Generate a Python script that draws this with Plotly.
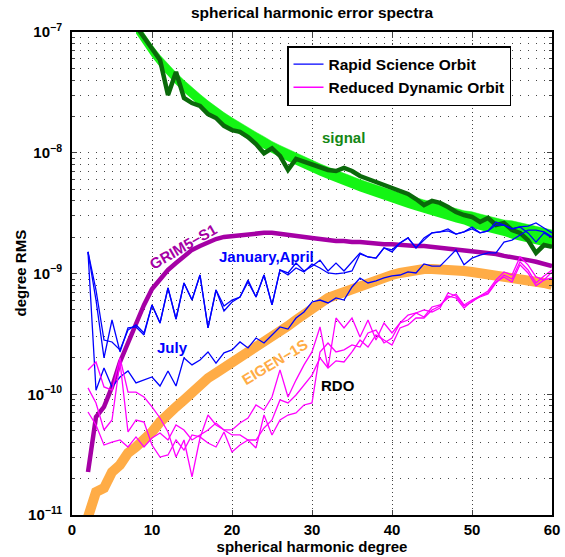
import numpy as np
import plotly.graph_objects as go

# ---------------- data ----------------
degrees = list(range(2, 61))          # error spectra, degree 2..60
signal_degrees = list(range(8, 61))   # signal curves, degree 8..60

y_tick_values = [1e-11, 1e-10, 1e-9, 1e-8, 1e-7]
y_tick_labels = ["10<sup>\u221211</sup>", "10<sup>\u221210</sup>", "10<sup>\u22129</sup>",
                 "10<sup>\u22128</sup>", "10<sup>\u22127</sup>"]

rso_january = [1.51e-9, 6.03e-10, 2.0e-10, 4.12e-10, 2.24e-10, 3.54e-10, 3.61e-10, 3.10e-10, 5.49e-10, 3.89e-10,
               7.59e-10, 4.20e-10, 8.35e-10, 6.03e-10, 9.72e-10, 3.54e-10, 7.30e-10, 4.89e-10, 5.81e-10, 6.39e-10,
               8.84e-10, 6.39e-10, 9.72e-10, 5.49e-10, 1.07e-9, 1.01e-9, 1.22e-9, 1.05e-9, 1.15e-9, 1.29e-9,
               1.05e-9, 1.22e-9, 1.05e-9, 1.25e-9, 1.48e-9, 1.37e-9, 1.34e-9, 1.63e-9, 1.51e-9, 1.79e-9,
               1.97e-9, 1.63e-9, 1.97e-9, 2.17e-9, 2.21e-9, 2.34e-9, 2.12e-9, 2.21e-9, 2.43e-9, 2.17e-9,
               2.25e-9, 2.67e-9, 2.52e-9, 2.34e-9, 2.43e-9, 2.47e-9, 2.62e-9, 2.38e-9, 2.17e-9]
rso_april = [1.51e-9, 7.30e-10, 2.81e-10, 2.71e-10, 2.33e-10, 3.40e-10, 3.75e-10, 3.22e-10, 5.49e-10, 3.89e-10,
             7.59e-10, 4.20e-10, 8.35e-10, 6.03e-10, 9.72e-10, 3.54e-10, 7.30e-10, 5.38e-10, 6.03e-10, 6.39e-10,
             8.51e-10, 6.39e-10, 9.72e-10, 5.49e-10, 1.07e-9, 9.72e-10, 1.11e-9, 1.03e-9, 1.20e-9, 1.11e-9,
             1.01e-9, 9.91e-10, 1.01e-9, 1.05e-9, 1.45e-9, 1.37e-9, 1.34e-9, 1.63e-9, 1.57e-9, 1.79e-9,
             1.97e-9, 1.63e-9, 1.89e-9, 2.17e-9, 2.21e-9, 2.25e-9, 2.12e-9, 2.21e-9, 2.34e-9, 2.17e-9,
             2.25e-9, 2.52e-9, 2.52e-9, 2.34e-9, 2.43e-9, 2.17e-9, 1.82e-9, 2.17e-9, 1.97e-9]
rso_july = [1.51e-9, 1.08e-10, 1.65e-10, 1.15e-10, 1.39e-10, 1.56e-10, 1.24e-10, 1.31e-10, 1.39e-10, 1.17e-10,
            1.56e-10, 1.17e-10, 2.0e-10, 1.75e-10, 1.92e-10, 2.24e-10, 1.81e-10, 2.20e-10, 2.33e-10, 2.71e-10,
            2.42e-10, 2.92e-10, 2.66e-10, 3.10e-10, 3.61e-10, 3.47e-10, 4.28e-10, 4.80e-10, 5.81e-10, 6.03e-10,
            5.70e-10, 6.27e-10, 6.03e-10, 7.73e-10, 9.18e-10, 8.35e-10, 8.67e-10, 9.18e-10, 9.54e-10, 9.72e-10,
            1.03e-9, 1.01e-9, 1.20e-9, 1.15e-9, 1.15e-9, 1.34e-9, 1.57e-9, 1.18e-9, 1.34e-9, 1.42e-9,
            1.48e-9, 1.48e-9, 1.82e-9, 1.89e-9, 2.08e-9, 2.29e-9, 2.29e-9, 2.21e-9, 2.01e-9]

rdo_a = [1.59e-10, 1.85e-10, 1.15e-10, 1.08e-10, 2.0e-10, 1.04e-10, 1.04e-10, 9.49e-11, 7.85e-11, 6.36e-11,
         4.87e-11, 3.02e-11, 4.18e-11, 2.07e-11, 4.34e-11, 6.73e-11, 5.57e-11, 5.06e-11, 5.06e-11, 5.78e-11,
         6.36e-11, 8.15e-11, 7.41e-11, 9.49e-11, 1.59e-10, 9.49e-11, 1.31e-10, 1.75e-10, 2.24e-10, 3.61e-10,
         1.65e-10, 4.28e-10, 3.54e-10, 4.28e-10, 2.98e-10, 4.12e-10, 2.81e-10, 3.89e-10, 3.22e-10, 3.89e-10,
         4.53e-10, 4.71e-10, 4.36e-10, 5.28e-10, 5.49e-10, 6.27e-10, 6.77e-10, 5.49e-10, 6.03e-10, 6.51e-10,
         7.17e-10, 8.84e-10, 1.03e-9, 9.72e-10, 1.37e-9, 1.18e-9, 9.36e-10, 8.84e-10, 1.03e-9]
rdo_b = [1.13e-10, 8.47e-11, 5.06e-11, 6.12e-11, 1.85e-10, 4.87e-11, 6.12e-11, 5.89e-11, 3.80e-11, 3.02e-11,
         3.14e-11, 4.18e-11, 3.45e-11, 4.60e-11, 4.43e-11, 3.95e-11, 3.66e-11, 4.87e-11, 3.33e-11, 3.80e-11,
         4.18e-11, 3.59e-11, 6.73e-11, 4.60e-11, 6.12e-11, 6.73e-11, 7.00e-11, 8.15e-11, 8.47e-11, 2.24e-10,
         2.66e-10, 2.24e-10, 2.33e-10, 2.56e-10, 2.46e-10, 3.22e-10, 3.40e-10, 2.66e-10, 2.92e-10, 3.89e-10,
         4.12e-10, 4.71e-10, 4.99e-10, 4.80e-10, 5.18e-10, 6.90e-10, 6.51e-10, 5.38e-10, 5.81e-10, 6.51e-10,
         6.90e-10, 8.51e-10, 9.36e-10, 8.51e-10, 1.18e-9, 1.01e-9, 7.92e-10, 8.84e-10, 9.18e-10]
rdo_c = [7.13e-11, 5.57e-11, 3.80e-11, 4.02e-11, 4.18e-11, 3.66e-11, 4.43e-11, 3.66e-11, 4.34e-11, 4.78e-11,
         4.18e-11, 5.57e-11, 5.06e-11, 4.18e-11, 4.60e-11, 5.06e-11, 5.78e-11, 5.06e-11, 4.60e-11, 4.60e-11,
         4.18e-11, 4.18e-11, 5.26e-11, 6.12e-11, 8.97e-11, 8.47e-11, 9.86e-11, 1.19e-10, 1.44e-10, 2.0e-10,
         1.65e-10, 1.89e-10, 1.85e-10, 2.24e-10, 2.81e-10, 2.46e-10, 3.10e-10, 2.81e-10, 2.56e-10, 3.54e-10,
         3.75e-10, 4.28e-10, 4.28e-10, 4.99e-10, 5.38e-10, 6.51e-10, 6.27e-10, 5.18e-10, 5.92e-10, 6.39e-10,
         6.77e-10, 8.35e-10, 9.72e-10, 9.01e-10, 1.25e-9, 1.07e-9, 8.35e-10, 9.54e-10, 1.07e-9]

grim5_s1 = [2.27e-11, 6.48e-11, 7.85e-11, 1.15e-10, 1.85e-10, 2.71e-10, 3.97e-10, 5.49e-10, 7.44e-10, 9.01e-10,
            1.07e-9, 1.22e-9, 1.40e-9, 1.57e-9, 1.69e-9, 1.82e-9, 1.93e-9, 2.01e-9, 2.05e-9, 2.08e-9,
            2.12e-9, 2.17e-9, 2.17e-9, 2.17e-9, 2.12e-9, 2.08e-9, 2.05e-9, 2.01e-9, 1.97e-9, 1.93e-9,
            1.89e-9, 1.86e-9, 1.86e-9, 1.82e-9, 1.82e-9, 1.79e-9, 1.79e-9, 1.75e-9, 1.75e-9, 1.72e-9,
            1.72e-9, 1.69e-9, 1.69e-9, 1.66e-9, 1.66e-9, 1.63e-9, 1.60e-9, 1.57e-9, 1.54e-9, 1.51e-9,
            1.48e-9, 1.45e-9, 1.40e-9, 1.37e-9, 1.32e-9, 1.29e-9, 1.25e-9, 1.20e-9, 1.15e-9]
eigen_1s = [9.62e-12, 1.55e-11, 1.67e-11, 2.27e-11, 2.60e-11, 3.26e-11, 3.66e-11, 4.18e-11, 4.87e-11, 5.89e-11,
            7.00e-11, 7.85e-11, 8.97e-11, 1.04e-10, 1.19e-10, 1.36e-10, 1.50e-10, 1.65e-10, 1.81e-10, 2.0e-10,
            2.20e-10, 2.42e-10, 2.66e-10, 2.98e-10, 3.28e-10, 3.68e-10, 4.12e-10, 4.62e-10, 5.18e-10, 5.70e-10,
            6.27e-10, 6.64e-10, 7.03e-10, 7.59e-10, 8.03e-10, 8.51e-10, 9.01e-10, 9.36e-10, 9.72e-10, 1.01e-9,
            1.05e-9, 1.07e-9, 1.09e-9, 1.09e-9, 1.09e-9, 1.07e-9, 1.05e-9, 1.05e-9, 1.03e-9, 1.01e-9,
            9.91e-10, 9.72e-10, 9.54e-10, 9.36e-10, 9.18e-10, 8.84e-10, 8.67e-10, 8.35e-10, 8.03e-10]

signal_upper = [1.22e-7, 9.63e-8, 7.79e-8, 6.43e-8, 5.41e-8, 4.61e-8, 3.98e-8, 3.46e-8, 3.05e-8, 2.69e-8,
                2.40e-8, 2.15e-8, 1.95e-8, 1.77e-8, 1.61e-8, 1.48e-8, 1.36e-8, 1.24e-8, 1.15e-8, 1.07e-8,
                9.94e-9, 9.26e-9, 8.67e-9, 8.10e-9, 7.61e-9, 7.15e-9, 6.74e-9, 6.37e-9, 6.01e-9, 5.69e-9,
                5.39e-9, 5.12e-9, 4.88e-9, 4.67e-9, 4.45e-9, 4.25e-9, 4.06e-9, 3.93e-9, 3.75e-9, 3.60e-9,
                3.45e-9, 3.31e-9, 3.24e-9, 3.11e-9, 2.99e-9, 2.88e-9, 2.77e-9, 2.73e-9, 2.64e-9, 2.54e-9,
                2.46e-9, 2.37e-9, 2.29e-9]
signal_lower = [9.70e-8, 7.66e-8, 6.20e-8, 5.12e-8, 4.31e-8, 3.67e-8, 3.17e-8, 2.76e-8, 2.43e-8, 2.14e-8,
                1.91e-8, 1.71e-8, 1.55e-8, 1.41e-8, 1.28e-8, 1.18e-8, 1.08e-8, 9.90e-9, 9.19e-9, 8.50e-9,
                7.91e-9, 7.37e-9, 6.90e-9, 6.45e-9, 6.06e-9, 5.69e-9, 5.36e-9, 5.07e-9, 4.78e-9, 4.53e-9,
                4.29e-9, 4.08e-9, 3.88e-9, 3.65e-9, 3.49e-9, 3.33e-9, 3.18e-9, 3.01e-9, 2.87e-9, 2.76e-9,
                2.64e-9, 2.54e-9, 2.39e-9, 2.29e-9, 2.21e-9, 2.12e-9, 2.04e-9, 1.94e-9, 1.87e-9, 1.80e-9,
                1.74e-9, 1.68e-9, 1.63e-9]
signal_observed = [1.12e-7, 8.92e-8, 7.23e-8, 5.87e-8, 3.01e-8, 4.67e-8, 2.84e-8, 2.58e-8, 2.44e-8, 2.09e-8,
                   1.94e-8, 1.67e-8, 1.54e-8, 1.49e-8, 1.35e-8, 1.18e-8, 9.91e-9, 1.09e-8, 9.40e-9, 7.20e-9,
                   8.88e-9, 8.39e-9, 7.92e-9, 7.62e-9, 7.20e-9, 7.06e-9, 7.48e-9, 7.06e-9, 6.42e-9, 6.06e-9,
                   5.73e-9, 5.31e-9, 5.01e-9, 4.82e-9, 4.56e-9, 4.14e-9, 3.69e-9, 3.99e-9, 3.84e-9, 3.55e-9,
                   3.23e-9, 3.05e-9, 2.94e-9, 2.67e-9, 2.88e-9, 2.52e-9, 2.62e-9, 2.29e-9, 2.17e-9, 1.89e-9,
                   1.48e-9, 1.72e-9, 1.66e-9]

legend_names = ["Rapid Science Orbit", "Reduced Dynamic Orbit"]

# ---------------- styles ----------------
FONT = "Liberation Sans, Arial, Helvetica, sans-serif"
BLUE = "rgb(0,0,255)"
MAGENTA = "rgb(255,0,255)"
LIME = "rgb(20,245,20)"
DKGREEN = "rgb(10,105,10)"
PURPLE = "rgb(165,0,165)"
ORANGE = "rgb(255,172,70)"

fig = go.Figure()

# signal band
fig.add_trace(go.Scatter(x=signal_degrees, y=signal_lower, mode="lines",
                         line=dict(width=0, color=LIME), showlegend=False, hoverinfo="skip"))
fig.add_trace(go.Scatter(x=signal_degrees, y=signal_upper, mode="lines", fill="tonexty",
                         fillcolor=LIME, line=dict(width=0.5, color=LIME), showlegend=False))

fig.add_trace(go.Scatter(x=degrees, y=eigen_1s, mode="lines",
                         line=dict(width=10, color=ORANGE), showlegend=False))
fig.add_trace(go.Scatter(x=degrees, y=grim5_s1, mode="lines",
                         line=dict(width=4.5, color=PURPLE), showlegend=False))
fig.add_trace(go.Scatter(x=signal_degrees, y=signal_observed, mode="lines",
                         line=dict(width=4.5, color=DKGREEN), showlegend=False))

for i, series in enumerate([rso_january, rso_april, rso_july]):
    fig.add_trace(go.Scatter(x=degrees, y=series, mode="lines",
                             line=dict(width=1.3, color=BLUE),
                             name=legend_names[0], showlegend=(i == 0)))
for i, series in enumerate([rdo_a, rdo_b, rdo_c]):
    fig.add_trace(go.Scatter(x=degrees, y=series, mode="lines",
                             line=dict(width=1.3, color=MAGENTA),
                             name=legend_names[1], showlegend=(i == 0)))

# ---------------- text labels ----------------
def ann(text, x, y, color, angle=0, size=15):
    fig.add_annotation(x=x, y=np.log10(y), text=text, showarrow=False, textangle=angle,
                       font=dict(family=FONT, size=size, color=color, weight="bold"),
                       xanchor="center", yanchor="middle")

ann("signal", 33.9, 1.35e-8, "rgb(20,135,20)")
ann("GRIM5\u2212S1", 13.9, 1.66e-9, PURPLE, angle=-30)
ann("January,April", 24.25, 1.37e-9, BLUE)
ann("July", 12.5, 2.46e-10, BLUE)
ann("EIGEN\u22121S", 25.4, 1.85e-10, ORANGE, angle=-31)
ann("RDO", 33.25, 1.19e-10, "black")

# y-axis title placed as rotated text at the reference position
fig.add_annotation(x=(20 - 72) / 480, y=0.5, xref="paper", yref="paper", text="degree RMS",
                   showarrow=False, textangle=-90, xanchor="center", yanchor="middle",
                   font=dict(family=FONT, size=15, color="black", weight="bold"))

GRID = "rgb(70,70,70)"
fig.update_layout(
    width=565, height=557,
    margin=dict(l=72, r=13, t=32, b=42, autoexpand=False),
    paper_bgcolor="white", plot_bgcolor="white",
    font=dict(family=FONT, size=15, color="black", weight="bold"),
    title=dict(text="spherical harmonic error spectra", x=312 / 565, xanchor="center",
               y=1 - 13 / 557, yanchor="middle", font=dict(size=15.5, weight="bold")),
    legend=dict(x=(287 - 72) / 480, y=(515 - 46) / 483, xanchor="left", yanchor="top",
                bgcolor="white", bordercolor="black", borderwidth=1.5,
                font=dict(size=15.5, weight="bold"), itemwidth=30, tracegroupgap=0,
                traceorder="normal"),
    showlegend=True,
)
fig.update_xaxes(
    range=[0, 60], dtick=10, tick0=0, ticks="inside", ticklen=5, tickwidth=1,
    showline=True, linecolor="black", linewidth=2, mirror="ticks", automargin=False,
    showgrid=True, gridcolor=GRID, griddash="1px,3px", gridwidth=1, zeroline=False,
    title=dict(text="spherical harmonic degree", standoff=2, font=dict(size=15, weight="bold")),
    tickfont=dict(size=15, weight="bold"),
)
fig.update_yaxes(
    type="log", range=[-11, -7], tickmode="array", tickvals=y_tick_values, ticktext=y_tick_labels,
    ticks="inside", ticklen=5, tickwidth=1, automargin=False, ticklabelstandoff=5,
    showline=True, linecolor="black", linewidth=2, mirror="ticks",
    showgrid=True, gridcolor=GRID, griddash="1px,7px", gridwidth=1, zeroline=False,
    minor=dict(dtick="D1", ticks="inside", ticklen=3, showgrid=True, gridcolor=GRID,
               griddash="1px,7px", gridwidth=1),
    tickfont=dict(size=15, weight="bold"),
)

fig.write_html("out.html", config={"displayModeBar": False},
               post_script="document.body.style.margin='0px';")
